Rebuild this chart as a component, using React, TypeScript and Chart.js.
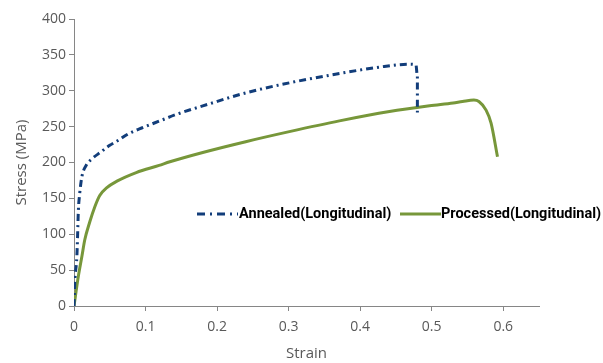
import React, { useEffect, useRef } from "react";
import { Chart, registerables } from "chart.js";

Chart.register(...registerables);

const annealedStrain = [0, 0.001, 0.004, 0.005, 0.006, 0.008, 0.011, 0.017, 0.025, 0.038, 0.05, 0.062, 0.076, 0.097, 0.12, 0.143, 0.19, 0.24, 0.301, 0.371, 0.427, 0.469, 0.478, 0.48, 0.48];
const annealedStress = [0, 32, 69, 97, 131, 157, 180, 196, 205, 215, 224, 231, 240, 249, 258, 267, 282, 297, 311, 324, 333, 337, 336, 320, 269];

const processedStrain = [0, 0.006, 0.011, 0.015, 0.022, 0.029, 0.036, 0.046, 0.06, 0.087, 0.119, 0.134, 0.18, 0.24, 0.301, 0.371, 0.441, 0.497, 0.53, 0.543, 0.559, 0.566, 0.576, 0.583, 0.592];
const processedStress = [0, 41, 69, 92, 117, 138, 154, 165, 174, 186, 196, 201, 214, 229, 243, 258, 271, 279, 283, 285, 287, 285, 273, 255, 208];

const xTicks = [0, 0.1, 0.2, 0.3, 0.4, 0.5, 0.6];
const xTickLabels = ["0", "0.1", "0.2", "0.3", "0.4", "0.5", "0.6"];
const yTicks = [0, 50, 100, 150, 200, 250, 300, 350, 400];
const yTickLabels = ["0", "50", "100", "150", "200", "250", "300", "350", "400"];

const seriesNames = ["Annealed(Longitudinal)", "Processed(Longitudinal)"];
const seriesColors = ["#123d7a", "#77973a"];
const annealedDash = [7, 4, 2, 4];

const legendPlugin = {
  id: "inlineLegend",
  afterDraw(chart: any) {
    const ctx = chart.ctx;
    ctx.save();
    const y = 214;
    ctx.font = "bold 14.5px Roboto";
    ctx.textBaseline = "middle";
    ctx.textAlign = "left";
    ctx.strokeStyle = seriesColors[0];
    ctx.lineWidth = 3;
    ctx.setLineDash([8, 5, 2, 5]);
    ctx.beginPath();
    ctx.moveTo(197, y);
    ctx.lineTo(238, y);
    ctx.stroke();
    ctx.setLineDash([]);
    ctx.fillStyle = "#000";
    ctx.fillText(seriesNames[0], 239, y);
    ctx.strokeStyle = seriesColors[1];
    ctx.lineWidth = 3;
    ctx.beginPath();
    ctx.moveTo(400, y);
    ctx.lineTo(441, y);
    ctx.stroke();
    ctx.fillText(seriesNames[1], 441, y);
    ctx.restore();
  },
};

export default function App() {
  const ref = useRef<HTMLCanvasElement>(null);
  useEffect(() => {
    if (!ref.current) return;
    const chart = new Chart(ref.current, {
      type: "scatter",
      data: {
        datasets: [
          {
            label: seriesNames[0],
            data: annealedStrain.map((x, i) => ({ x, y: annealedStress[i] })),
            showLine: true,
            borderColor: seriesColors[0],
            borderWidth: 3,
            borderDash: annealedDash,
            pointRadius: 0,
            cubicInterpolationMode: "monotone",
          },
          {
            label: seriesNames[1],
            data: processedStrain.map((x, i) => ({ x, y: processedStress[i] })),
            showLine: true,
            borderColor: seriesColors[1],
            borderWidth: 3,
            pointRadius: 0,
            cubicInterpolationMode: "monotone",
          },
        ],
      },
      options: {
        animation: false,
        responsive: false,
        layout: { padding: { top: 19, right: 64, left: 0, bottom: 0 } },
        plugins: { legend: { display: false }, tooltip: { enabled: false } },
        scales: {
          x: {
            type: "linear",
            min: 0,
            max: 0.65,
            afterBuildTicks: (s: any) => {
              s.ticks = xTicks.map((v) => ({ value: v }));
            },
            afterFit: (s: any) => {
              s.height = 57;
            },
            grid: { display: true, drawOnChartArea: false, drawTicks: true, tickLength: 5, color: "#868686" },
            border: { display: true, color: "#868686", width: 1 },
            ticks: {
              color: "#595959",
              font: { family: "'Open Sans'", size: 14 },
              padding: 8,
              maxRotation: 0,
              callback: (v: any) => {
                const i = xTicks.findIndex((t) => Math.abs(t - v) < 1e-9);
                return i >= 0 ? xTickLabels[i] : "";
              },
            },
            title: {
              display: true,
              text: "Strain",
              color: "#595959",
              font: { family: "'Open Sans'", size: 15 },
              padding: { top: 0, bottom: 0 },
            },
          },
          y: {
            type: "linear",
            min: 0,
            max: 400,
            afterBuildTicks: (s: any) => {
              s.ticks = yTicks.map((v) => ({ value: v }));
            },
            afterFit: (s: any) => {
              s.width = 74;
            },
            grid: { display: true, drawOnChartArea: false, drawTicks: true, tickLength: 5, color: "#868686" },
            border: { display: true, color: "#868686", width: 1 },
            ticks: {
              color: "#595959",
              font: { family: "'Open Sans'", size: 14 },
              padding: 3,
              callback: (v: any) => {
                const i = yTicks.indexOf(v);
                return i >= 0 ? yTickLabels[i] : "";
              },
            },
            title: {
              display: true,
              text: "Stress (MPa)",
              color: "#595959",
              font: { family: "'Open Sans'", size: 15 },
              padding: { top: 13, bottom: 0 },
            },
          },
        },
      },
      plugins: [legendPlugin],
    });
    return () => chart.destroy();
  }, []);
  return (
    <div style={{ position: "fixed", left: 0, top: 0, width: 603, height: 363, background: "#fff" }}>
      <canvas ref={ref} width={603} height={363} style={{ width: 603, height: 363, display: "block" }} />
    </div>
  );
}
